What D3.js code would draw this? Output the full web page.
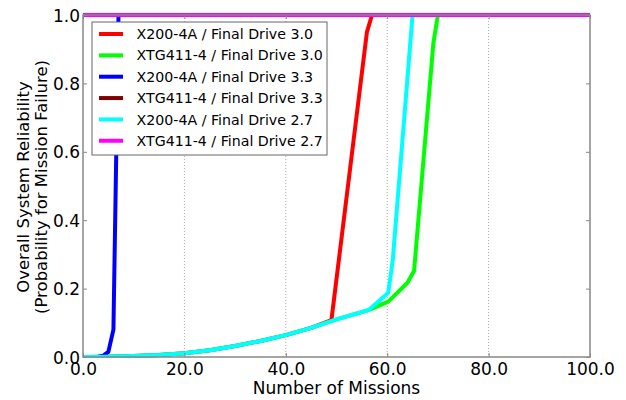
<!DOCTYPE html>
<html><head><meta charset="utf-8">
<script src="https://cdn.jsdelivr.net/npm/d3@7"></script>
<style>body{margin:0;background:#fff}svg{display:block}text{font-family:"DejaVu Sans",sans-serif;fill:#000}</style>
</head><body><svg id="c" width="626" height="400"></svg>
<script>
const seriesNames = ["X200-4A / Final Drive 3.0","XTG411-4 / Final Drive 3.0","X200-4A / Final Drive 3.3","XTG411-4 / Final Drive 3.3","X200-4A / Final Drive 2.7","XTG411-4 / Final Drive 2.7"];
const seriesColors = ["#ff0000","#00ff00","#0000ff","#800000","#00ffff","#ff00ff"];
// shared low-mission curve (missions, reliability)
const commonX = [0,5,10,15,20,25,30,35,40,45];
const commonY = [0,0.001,0.003,0.006,0.011,0.02,0.032,0.047,0.064,0.085];
const redX = [49,56,57,100];      const redY = [0.108,0.95,1.0,1.0];
const greenX = [50,56.3,60.2,64,65.3,69.1,70,100]; const greenY = [0.11,0.137,0.162,0.217,0.252,0.917,1.0,1.0];
const blueX = [0,3,4,5,6,7,100];  const blueY = [0,0.001,0.004,0.015,0.08,1.0,1.0];
const darkRedX = [0,100];         const darkRedY = [1.0,1.0];
const cyanX = [50,56.3,60.2,61.1,65,100]; const cyanY = [0.11,0.137,0.188,0.284,1.0,1.0];
const magentaX = [0,100];         const magentaY = [1.0,1.0];
const xTicks = [0,20,40,60,80,100];
const yTicks = [0,0.2,0.4,0.6,0.8,1.0];

const zip=(xs,ys)=>xs.map((x,i)=>[x,ys[i]]);
const base = zip(commonX, commonY);
const series = [
  base.concat(zip(redX,redY)),
  base.concat(zip(greenX,greenY)),
  zip(blueX,blueY),
  zip(darkRedX,darkRedY),
  base.concat(zip(cyanX,cyanY)),
  zip(magentaX,magentaY)
];

const svg = d3.select("#c");
const L=83,R=590,T=15,B=357;
const x = d3.scaleLinear().domain([0,100]).range([L,R]);
const y = d3.scaleLinear().domain([0,1]).range([B,T]);

// grid (vertical only)
svg.append("g").selectAll("line").data(xTicks.slice(1,-1)).join("line")
  .attr("x1",d=>x(d)).attr("x2",d=>x(d)).attr("y1",T).attr("y2",B)
  .attr("stroke","#aaa").attr("stroke-width",1).attr("stroke-dasharray","1,2");

const line = d3.line().x(d=>x(d[0])).y(d=>y(d[1]));
svg.append("clipPath").attr("id","cp").append("rect").attr("x",L).attr("y",T-3).attr("width",R-L).attr("height",B-T+4);
svg.append("g").attr("clip-path","url(#cp)").selectAll("path").data(series).join("path")
  .attr("d",line).attr("fill","none").attr("stroke",(d,i)=>seriesColors[i]).attr("stroke-width",4).attr("stroke-linejoin","round");

// frame
svg.append("rect").attr("x",L).attr("y",T).attr("width",R-L).attr("height",B-T)
  .attr("fill","none").attr("stroke","#888").attr("stroke-width",1.5);

// axes
const xa = svg.append("g").attr("transform",`translate(0,${B})`)
  .call(d3.axisBottom(x).tickValues(xTicks).tickFormat(d3.format(".1f")).tickSizeInner(-4).tickSizeOuter(0).tickPadding(6));
const ya = svg.append("g").attr("transform",`translate(${L},0)`)
  .call(d3.axisLeft(y).tickValues(yTicks).tickFormat(d3.format(".1f")).tickSizeInner(-4).tickSizeOuter(0).tickPadding(3));
svg.append("g").attr("transform",`translate(${R},0)`)
  .call(d3.axisRight(y).tickValues(yTicks).tickFormat("").tickSizeInner(-4).tickSizeOuter(0));
svg.append("g").attr("transform",`translate(0,${T})`)
  .call(d3.axisTop(x).tickValues(xTicks).tickFormat("").tickSizeInner(-4).tickSizeOuter(0));
svg.selectAll(".domain").remove();
svg.selectAll(".tick line").attr("stroke","#888");
xa.selectAll("text").attr("font-size",17).attr("font-family","DejaVu Sans");
ya.selectAll("text").attr("font-size",17).attr("font-family","DejaVu Sans").attr("dy","0.36em");

svg.append("text").attr("x",(L+R)/2).attr("y",394).attr("text-anchor","middle").attr("font-size",17).text("Number of Missions");
const yl = svg.append("text").attr("transform","translate(28.5,187) rotate(-90)").attr("text-anchor","middle").attr("font-size",16.5);
yl.append("tspan").attr("x",0).attr("dy",0).text("Overall System Reliability");
yl.append("tspan").attr("x",0).attr("dy",18).text("(Probability for Mission Failure)");

// legend
const lg = svg.append("g");
lg.append("rect").attr("x",92).attr("y",22).attr("width",235).attr("height",133).attr("fill","#fff").attr("stroke","#666").attr("stroke-width",1);
seriesNames.forEach((n,i)=>{
  const yy = 34 + i*21.35;
  lg.append("line").attr("x1",99).attr("x2",123).attr("y1",yy).attr("y2",yy).attr("stroke",seriesColors[i]).attr("stroke-width",4);
  lg.append("text").attr("x",136.5).attr("y",yy).attr("dy","0.36em").attr("font-size",14.2).text(n);
});
</script></body></html>
